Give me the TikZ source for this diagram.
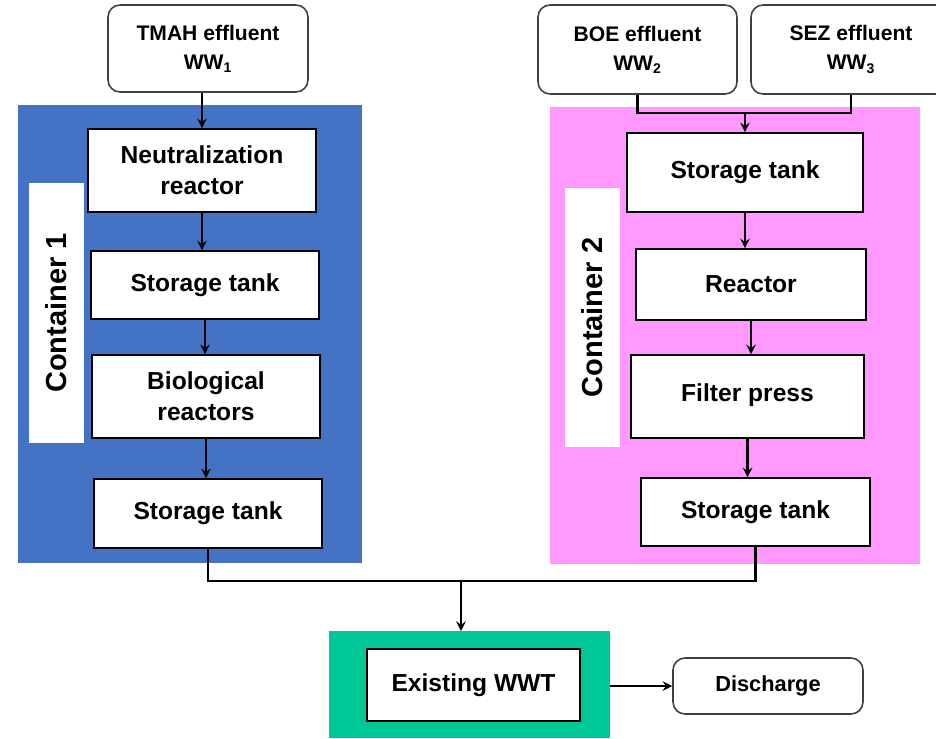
\documentclass[tikz,border=0pt]{standalone}
\usepackage{fontspec}
\setmainfont{Liberation Sans}
\usepackage{tikz}
\usetikzlibrary{shapes.geometric, arrows}
\definecolor{cblue}{RGB}{68,114,196}
\definecolor{cpink}{RGB}{255,153,255}
\definecolor{cgreen}{RGB}{0,199,150}
\tikzstyle{source} = [rectangle, rounded corners=0.24cm, draw=black!75, line width=0.9pt, fill=white, align=center, inner sep=0pt, font=\fontsize{12}{16.5}\selectfont\bfseries]
\tikzstyle{unit} = [rectangle, draw=black, line width=0.9pt, fill=white, align=center, inner sep=0pt, font=\fontsize{14}{17.5}\selectfont\bfseries]
\tikzstyle{container} = [rectangle, inner sep=0pt, outer sep=0pt]
\tikzstyle{tag} = [rectangle, fill=white, rotate=90, inner sep=0pt, minimum width=5.2cm, minimum height=1.1cm, font=\fontsize{16.5}{20}\selectfont\bfseries]
\tikzstyle{pipe} = [line width=1.4pt]
\tikzstyle{arrow} = [line width=1.4pt, ->, >=stealth]
\begin{document}
\begin{tikzpicture}[x=0.02cm, y=-0.02cm]
		\useasboundingbox (0,0) rectangle (936,738);
		% Containers
		\node (cont1) [container, fill=cblue, minimum width=6.88cm, minimum height=9.16cm] at (190,334) {};
		\node (cont2) [container, fill=cpink, minimum width=7.4cm, minimum height=9.14cm] at (735,335.5) {};
		\node (wwtc) [container, fill=cgreen, minimum width=5.62cm, minimum height=2.14cm] at (469.5,684.5) {};
		\node (tag1) [tag] at (56.5,313) {Container 1};
		\node (tag2) [tag] at (592.5,317.5) {Container 2};
		% Nodes
		\node (tmah) [source, minimum width=4cm, minimum height=1.74cm] at (208,48.5) {TMAH effluent\\WW\textsubscript{1}};
		\node (boe) [source, minimum width=3.98cm, minimum height=1.78cm] at (637.5,49.5) {BOE effluent\\WW\textsubscript{2}};
		\node (sez) [source, minimum width=4cm, minimum height=1.78cm] at (851,49.5) {SEZ effluent\\WW\textsubscript{3}};
		\node (neut) [unit, minimum width=4.56cm, minimum height=1.66cm] at (202,170.5) {Neutralization\\reactor};
		\node (st1) [unit, minimum width=4.56cm, minimum height=1.36cm] at (205,285) {Storage tank};
		\node (bio) [unit, minimum width=4.56cm, minimum height=1.66cm] at (206,396.5) {Biological\\reactors};
		\node (st2) [unit, minimum width=4.56cm, minimum height=1.38cm] at (208,513.5) {Storage tank};
		\node (st3) [unit, minimum width=4.72cm, minimum height=1.58cm] at (745,172.5) {Storage tank};
		\node (reac) [unit, minimum width=4.6cm, minimum height=1.42cm] at (751,284.5) {Reactor};
		\node (filt) [unit, minimum width=4.66cm, minimum height=1.66cm] at (747.5,396.5) {\raisebox{4pt}{Filter press}};
		\node (st4) [unit, minimum width=4.58cm, minimum height=1.36cm] at (755.5,512) {Storage tank};
		\node (wwt) [unit, minimum width=4.26cm, minimum height=1.44cm] at (473.5,685) {Existing WWT};
		\node (dis) [source, font=\fontsize{12.4}{15}\selectfont\bfseries, minimum width=3.8cm, minimum height=1.12cm] at (768,686) {Discharge};
		\coordinate (merge) at (461,581);
		% Arrows
		\draw [arrow] (tmah.south -| neut.north) -- (neut.north);
		\draw [arrow] (neut.south) -- (neut.south |- st1.north);
		\draw [arrow] (st1.south) -- (st1.south |- bio.north);
		\draw [arrow] (bio.south) -- (bio.south |- st2.north);
		\draw [pipe] (boe.south) |- (sez.south |- 0,113) -- (sez.south);
		\draw [arrow] (st3.north |- 0,113) -- (st3.north);
		\draw [arrow] (st3.south) -- (st3.south |- reac.north);
		\draw [arrow] (reac.south) -- (reac.south |- filt.north);
		\draw [arrow] (filt.south) -- (filt.south |- st4.north);
		\draw [pipe] (st2.south) |- (merge) -| (st4.south);
		\draw [arrow] (merge) -- (merge |- wwtc.north);
		\draw [arrow] (wwtc.east |- dis.west) -- (dis.west);
	\end{tikzpicture}
\end{document}
